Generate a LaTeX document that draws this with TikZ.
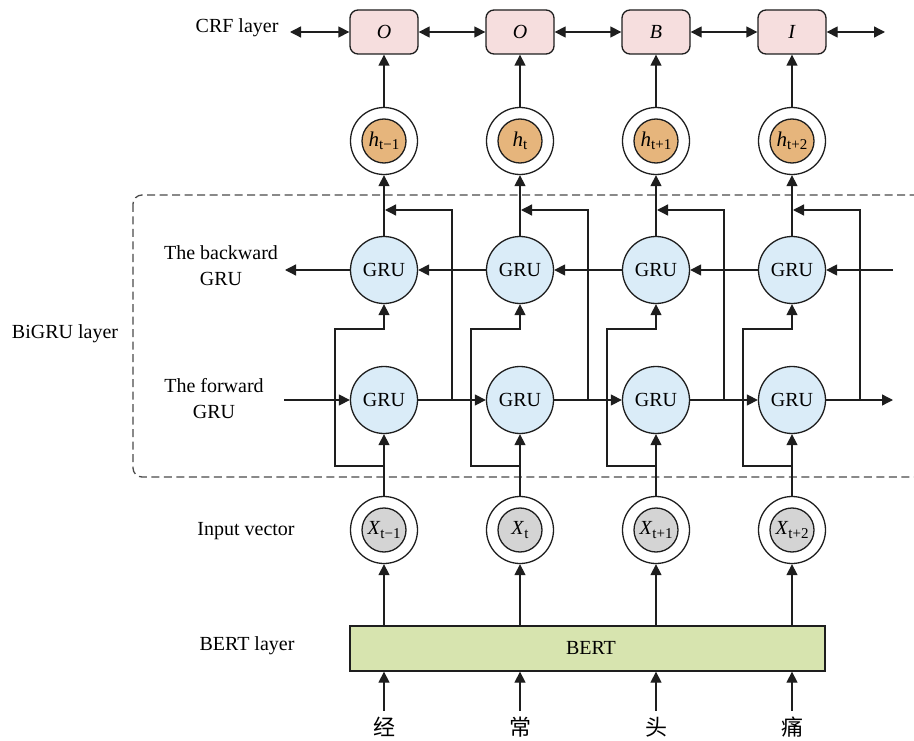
\documentclass[tikz,border=0pt]{standalone}
\usepackage{fontspec}
\setmainfont{Liberation Serif}
\newfontfamily\cjk{Noto Sans CJK SC}
\usetikzlibrary{arrows.meta}
\definecolor{crfpink}{HTML}{F6DEDE}
\definecolor{horange}{HTML}{E6B57C}
\definecolor{grublue}{HTML}{DAECF8}
\definecolor{xgray}{HTML}{D4D4D4}
\definecolor{bertgreen}{HTML}{D7E4AF}
\definecolor{ink}{HTML}{1E1E1E}
\definecolor{dashgray}{HTML}{4A4A4A}
\newcommand\sbx[1]{\raisebox{-0.35ex}{\fontsize{15}{15}\selectfont #1}}
\tikzset{
  ln/.style={line width=1.3pt, draw=ink},
  arr/.style={ln, -{Triangle[length=11pt,width=11pt]}},
  darr/.style={ln, {Triangle[length=11pt,width=11pt]}-{Triangle[length=11pt,width=11pt]}},
  crfbox/.style={ln, rounded corners=8pt, fill=crfpink, minimum width=68pt, minimum height=44pt, inner sep=0pt},
  grunode/.style={ln, circle, fill=grublue, minimum size=67pt, inner sep=0pt},
  outerring/.style={ln, circle, minimum size=67pt, inner sep=0pt},
  hnode/.style={ln, circle, fill=horange, minimum size=44pt, inner sep=0pt},
  xnode/.style={ln, circle, fill=xgray, minimum size=44pt, inner sep=0pt},
  bertbox/.style={ln, fill=bertgreen, minimum width=475pt, minimum height=45pt, inner sep=0pt},
  charnode/.style={font=\cjk\fontsize{22}{22}\selectfont, inner sep=6pt},
  dashbox/.style={line width=1.3pt, draw=dashgray, dash pattern=on 8pt off 4.5pt, rounded corners=9pt}
}
\begin{document}
\begin{tikzpicture}[x=1pt,y=-1pt,font=\fontsize{20}{26}\selectfont]
\useasboundingbox (0,0) rectangle (914,741);
\clip (0,0) rectangle (914,741);

% dashed BiGRU frame
\draw[dashbox] (133,195) rectangle (960,477);

% labels
\node[anchor=east] (lcrf) at (282,28) {CRF layer};
\node[align=center] (lback) at (221,266) {The backward\\GRU};
\node (lbigru) at (65,334) {BiGRU layer};
\node[align=center] (lfwd) at (214,399) {The forward\\GRU};
\node (linput) at (246,531) {Input vector};
\node (lbert) at (247,646) {BERT layer};

% BERT
\node[bertbox] (bert) at (587.5,648.5) {};
\node (berttext) at (591,648) {BERT};

% columns
\foreach \i/\x/\tag/\sub/\ch in {1/384/O/t−1/经, 2/520/O/t/常, 3/656/B/t+1/头, 4/792/I/t+2/痛}{
  \node[crfbox] (c\i) at (\x,32) {\textit{\tag}};
  \node[outerring] (ho\i) at (\x,141) {};
  \node[hnode] (h\i) at (\x,141) {\textit{\fontsize{21}{21}\selectfont h}\sbx{\sub}};
  \node[grunode] (b\i) at (\x,270) {GRU};
  \node[grunode] (f\i) at (\x,400) {GRU};
  \node[outerring] (xo\i) at (\x,530) {};
  \node[xnode] (x\i) at (\x,530) {\textit{X}\sbx{\sub}};
  \node[charnode] (w\i) at (\x,727) {\ch};
  \coordinate (bp\i) at (\x,466);
  \coordinate (bl\i) at (\x-49,329);
  \coordinate (fo\i) at (\x+68,400);
  \coordinate (hj\i) at (\x+1,210);
}

% vertical connectors
\foreach \i in {1,2,3,4}{
  \draw[arr] (w\i.north) -- (w\i.north |- bert.south);
  \draw[arr] (bert.north -| xo\i) -- (xo\i);
  \draw[arr] (xo\i) -- (f\i);
  \draw[arr] (bp\i) -| (bl\i) -| (b\i.south);
  \draw[arr] (b\i) -- (ho\i);
  \draw[arr] (fo\i) |- (hj\i);
  \draw[arr] (ho\i) -- (c\i);
}

% forward chain
\coordinate (fin) at (284,400);
\coordinate (fout) at (893,400);
\draw[arr] (fin) -- (f1);
\draw[arr] (f1) -- (f2);
\draw[arr] (f2) -- (f3);
\draw[arr] (f3) -- (f4);
\draw[arr] (f4) -- (fout);

% backward chain
\coordinate (bin) at (893,270);
\coordinate (bout) at (285,270);
\draw[arr] (bin) -- (b4);
\draw[arr] (b4) -- (b3);
\draw[arr] (b3) -- (b2);
\draw[arr] (b2) -- (b1);
\draw[arr] (b1) -- (bout);

% CRF chain
\coordinate (cl) at (290,32);
\coordinate (cr) at (885,32);
\draw[darr] (cl) -- (c1);
\draw[darr] (c1) -- (c2);
\draw[darr] (c2) -- (c3);
\draw[darr] (c3) -- (c4);
\draw[darr] (c4) -- (cr);
\end{tikzpicture}
\end{document}
